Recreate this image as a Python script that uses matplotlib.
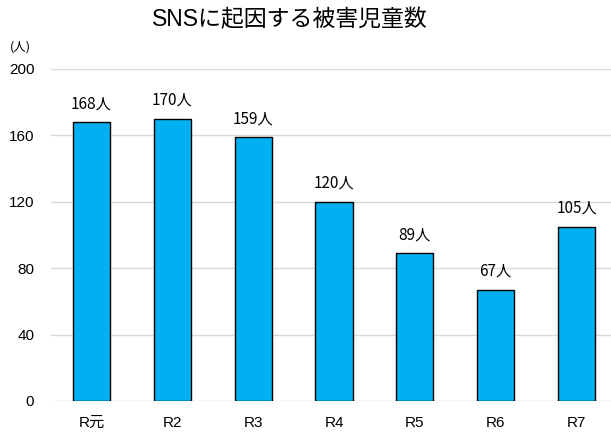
import matplotlib.pyplot as plt

plt.rcParams['font.family'] = ['Liberation Sans', 'Noto Sans CJK JP']

years = ["R元", "R2", "R3", "R4", "R5", "R6", "R7"]
victims = [168, 170, 159, 120, 89, 67, 105]
yticks = [0, 40, 80, 120, 160, 200]

fig = plt.figure(figsize=(6.11, 4.34), dpi=100)
ax = fig.add_axes([51 / 611, 33 / 434, 566 / 611, 332 / 434])

x = list(range(len(years)))
bars = ax.bar(x, victims, width=0.46, color="#00B0F0", edgecolor="black", linewidth=1, zorder=3)

for b, v in zip(bars, victims):
    ax.text(b.get_x() + b.get_width() / 2, v + 6, f"{v}人", ha="center", va="bottom",
            fontsize=11, family=['Noto Sans CJK JP', 'DejaVu Sans'])

ax.set_xlim(-0.5, 6.5)
ax.set_ylim(0, 200)
ax.set_yticks(yticks)
ax.set_xticks(x)
ax.set_xticklabels(years, fontsize=11)
ax.tick_params(axis="y", labelsize=11, length=0, pad=12)
ax.tick_params(axis="x", length=0, pad=11)
ax.grid(axis="y", color="#d9d9d9", linewidth=1, zorder=0)
for s in ax.spines.values():
    s.set_visible(False)

fig.text(290 / 611, 1 - 20 / 434, "SNSに起因する被害児童数", ha="center", va="center", fontsize=16.5)
fig.text(20 / 611, 1 - 47 / 434, "(人)", ha="center", va="center", fontsize=9,
         family=['Noto Sans CJK JP', 'DejaVu Sans'])

fig.savefig("out.png", dpi=100)
